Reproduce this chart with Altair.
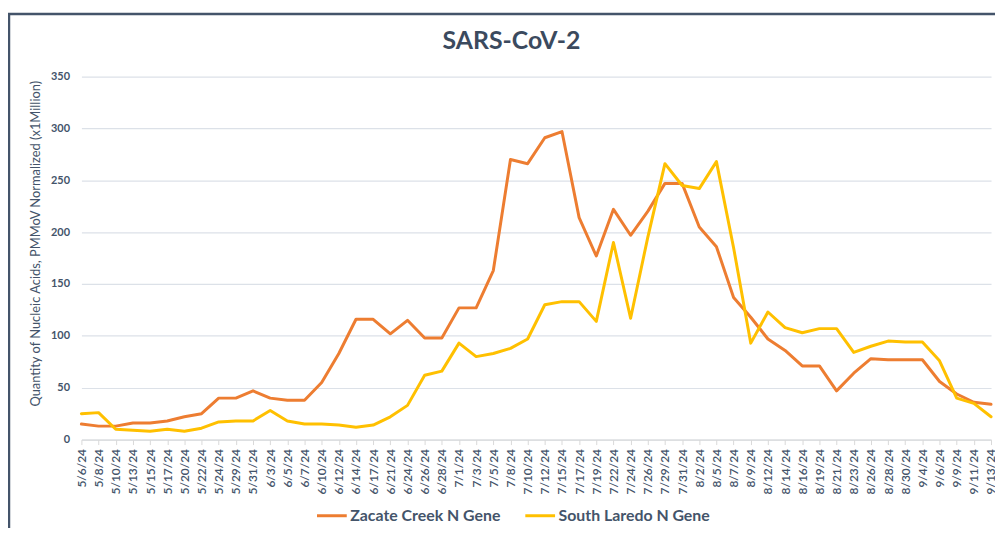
import altair as alt
import pandas as pd

dates = ["5/6/24","5/8/24","5/10/24","5/13/24","5/15/24","5/17/24","5/20/24","5/22/24","5/24/24","5/29/24",
         "5/31/24","6/3/24","6/5/24","6/7/24","6/10/24","6/12/24","6/14/24","6/17/24","6/21/24","6/24/24",
         "6/26/24","6/28/24","7/1/24","7/3/24","7/5/24","7/8/24","7/10/24","7/12/24","7/15/24","7/17/24",
         "7/19/24","7/22/24","7/24/24","7/26/24","7/29/24","7/31/24","8/2/24","8/5/24","8/7/24","8/9/24",
         "8/12/24","8/14/24","8/16/24","8/19/24","8/21/24","8/23/24","8/26/24","8/28/24","8/30/24","9/4/24",
         "9/6/24","9/9/24","9/11/24","9/13/24"]

zacate = [15, 13, 13, 16, 16, 18, 22, 25, 40, 40,
          47, 40, 38, 38, 55, 83, 116, 116, 102, 115,
          98, 98, 127, 127, 163, 270, 266, 291, 297, 214,
          177, 222, 197, 220, 247, 247, 205, 186, 137, 118,
          97, 86, 71, 71, 47, 64, 78, 77, 77, 77,
          56, 44, 36, 34]

laredo = [25, 26, 10, 9, 8, 10, 8, 11, 17, 18,
          18, 28, 18, 15, 15, 14, 12, 14, 22, 33,
          62, 66, 93, 80, 83, 88, 97, 130, 133, 133,
          114, 190, 117, 195, 266, 245, 242, 268, 185, 93,
          123, 108, 103, 107, 107, 84, 90, 95, 94, 94,
          76, 40, 35, 22]

series_names = ["Zacate Creek N Gene", "South Laredo N Gene"]
series_colors = ["#ED7D31", "#FFC000"]
y_ticks = [0, 50, 100, 150, 200, 250, 300, 350]

df = pd.DataFrame({
    "date": dates * 2,
    "series": [series_names[0]] * len(dates) + [series_names[1]] * len(dates),
    "value": zacate + laredo,
})

FONT = "Lato"
TXT = "#44546A"

x_enc = alt.X("date:O", sort=dates, title=None,
              scale=alt.Scale(type="point", padding=0),
              axis=alt.Axis(labelAngle=270, labelFontSize=12, labelColor=TXT, labelFont=FONT,
                            labelFontWeight=600, labelPadding=4, tickSize=5, tickColor="#D9D9D9",
                            domainColor="#D9D9D9", labelOverlap=False, grid=False))
y_enc = alt.Y("value:Q", title="Quantity of Nucleic Acids, PMMoV Normalized (x1Million)",
              scale=alt.Scale(domain=[0, 350], nice=False),
              axis=alt.Axis(values=y_ticks, labelFontSize=11, labelColor=TXT, labelFont=FONT,
                            labelFontWeight="bold", labelPadding=12, tickSize=0, domain=False,
                            gridColor="#DCE1E8", gridWidth=1.2,
                            titleFontSize=13, titleFont=FONT, titleColor=TXT,
                            titleFontWeight="normal", titlePadding=8, titleY=168))
color_enc = alt.Color("series:N", title=None,
                      scale=alt.Scale(domain=series_names, range=series_colors),
                      legend=alt.Legend(orient="none", legendX=236, legendY=426, direction="horizontal",
                                        symbolType="stroke", symbolSize=900, symbolStrokeWidth=3,
                                        labelFontSize=16, labelColor=TXT, labelFont=FONT,
                                        labelFontWeight="bold", labelOffset=2, columnPadding=18))

base = alt.Chart(df)
lines = [
    base.transform_filter(alt.datum.series == name)
        .mark_line(strokeWidth=3, strokeJoin="round", strokeCap="round")
        .encode(x=x_enc, y=y_enc, color=color_enc)
    for name in series_names
]

frame_top = alt.Chart(pd.DataFrame({"a": [0]})).mark_rule(color="#44546A", strokeWidth=2.5).encode(
    x=alt.value(-74), x2=alt.value(930), y=alt.value(-63))
frame_left = alt.Chart(pd.DataFrame({"a": [0]})).mark_rule(color="#44546A", strokeWidth=2.5).encode(
    x=alt.value(-73), y=alt.value(-64), y2=alt.value(470))

chart = alt.layer(*lines, frame_top, frame_left).properties(
    width=917, height=366,
    autosize=alt.AutoSizeParams(type="none"),
    padding={"left": 74, "top": 67, "right": 4, "bottom": 87},
    title=alt.TitleParams("SARS-CoV-2", fontSize=25, font=FONT, fontWeight="bold",
                          color="#3B4A5E", anchor="middle", offset=-42, dx=-25),
).configure_view(stroke=None)

chart.save("out.html", embed_options={"renderer": "svg", "actions": False})
